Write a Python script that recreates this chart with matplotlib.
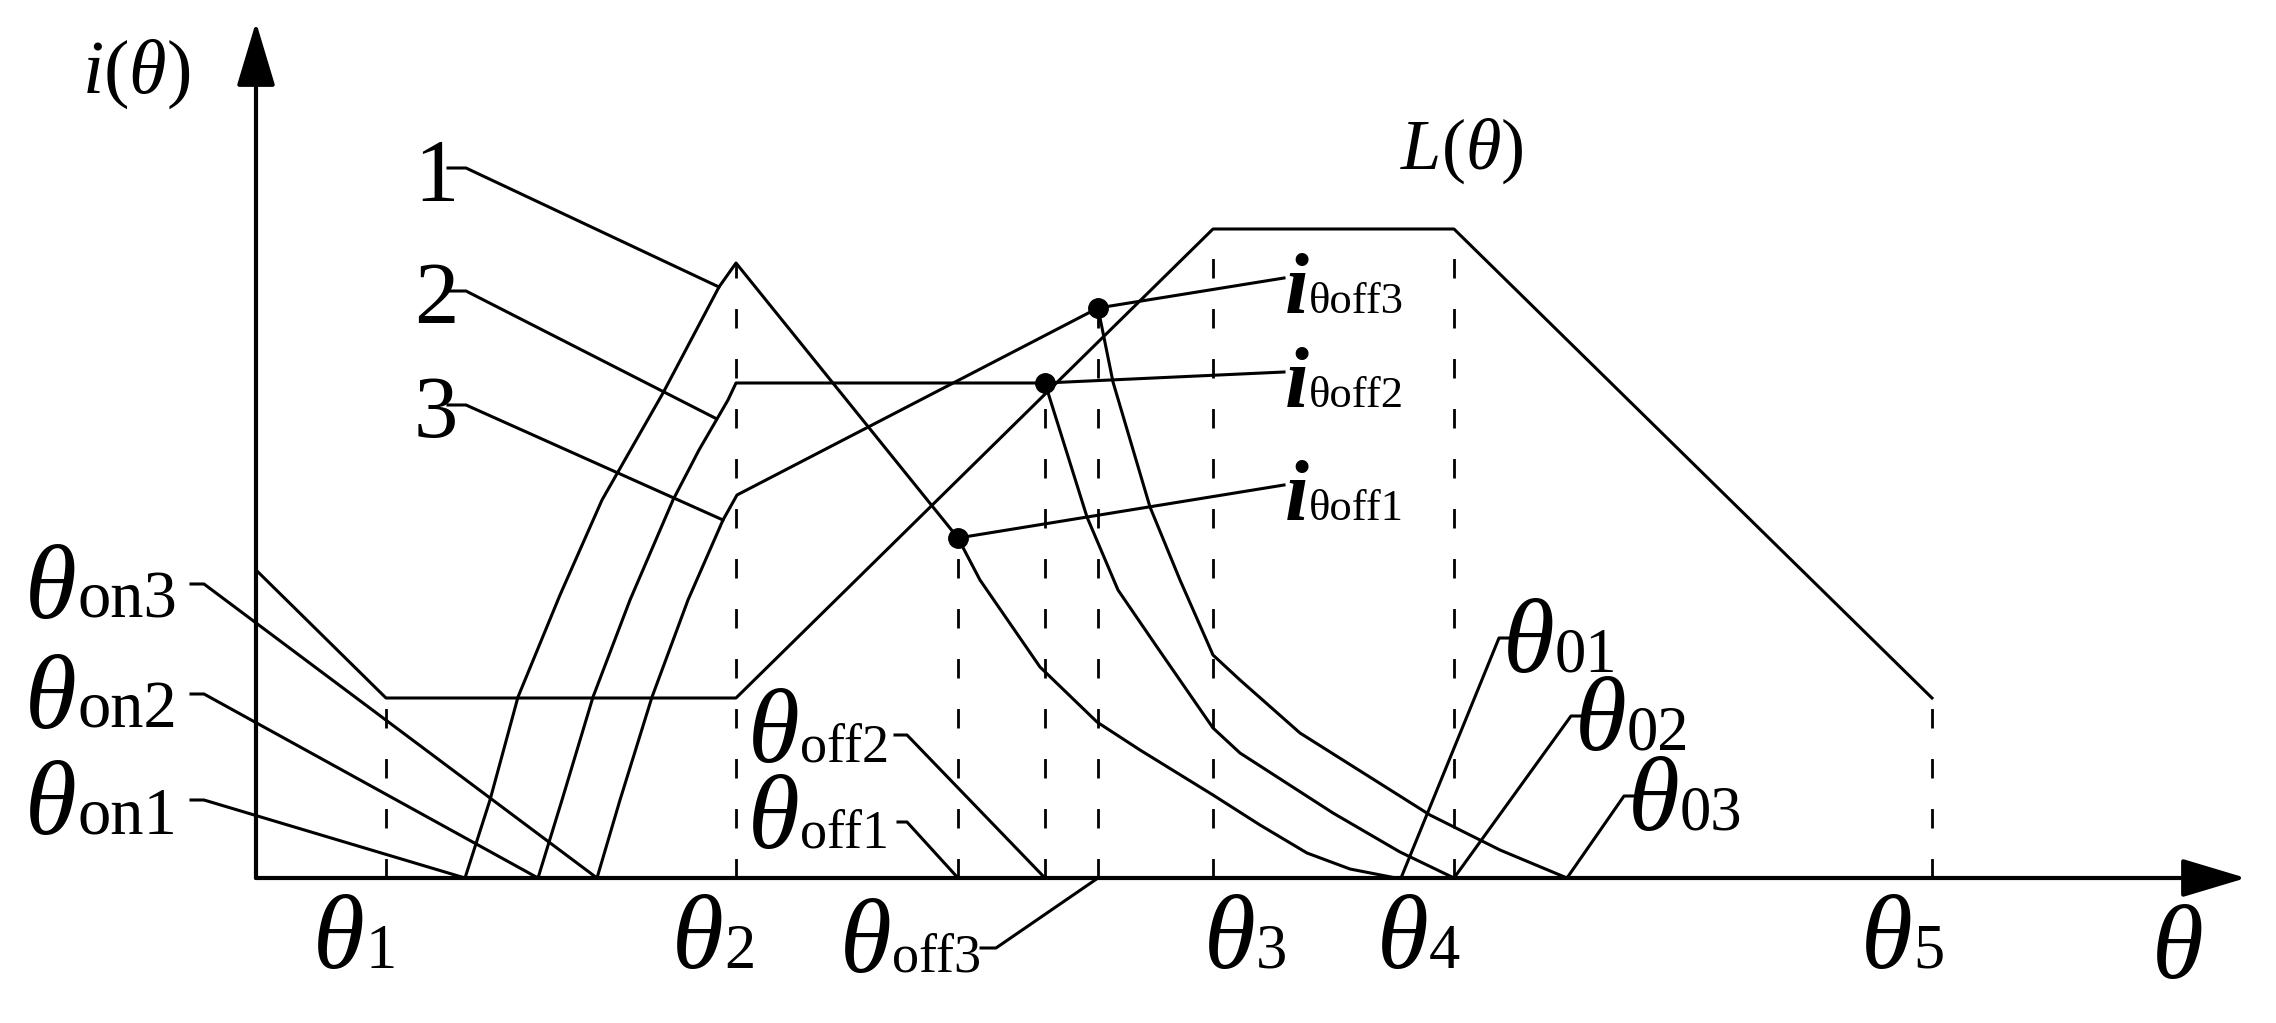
import matplotlib
matplotlib.use("Agg")
import matplotlib.pyplot as plt

plt.rcParams['font.family'] = ['Liberation Serif', 'DejaVu Serif']
plt.rcParams['mathtext.fontset'] = 'custom'
plt.rcParams['mathtext.it'] = 'Liberation Serif:italic'
plt.rcParams['mathtext.rm'] = 'Liberation Serif'

# rotor positions (theta units) and the height of their dashed guide lines
pos_sub = ['1', '2', 'off1', 'off2', 'off3', '3', '4', '5']
pos_theta = [13.0, 48.0, 70.2, 78.9, 84.2, 95.7, 119.8, 167.6]
pos_top = [18.0, 61.5, 34.0, 49.5, 57.0, 64.9, 64.9, 18.0]

# inductance profile L(theta)
L_theta = [0, 13.0, 48.0, 95.7, 119.8, 167.6]
L_i = [30.8, 18.0, 18.0, 64.9, 64.9, 18.0]

# phase current curves 1, 2, 3
c1_theta = [20.9, 23.4, 26.2, 30.4, 34.6, 40.7, 46.3, 48.0, 70.2, 72.4, 78.4,
            84.1, 88.4, 95.7, 100.4, 105.1, 109.4, 114.0]
c1_i = [0, 7.8, 18.1, 28.3, 37.8, 48.5, 59.1, 61.5, 34.0, 29.8, 21.1,
        15.6, 12.8, 8.3, 5.3, 2.5, 0.9, 0]
c2_theta = [28.2, 30.6, 33.7, 37.4, 41.7, 44.3, 47.2, 48.0, 78.9, 83.1, 86.2,
            90.1, 95.7, 98.4, 107.7, 114.4, 119.8]
c2_i = [0, 7.8, 18.1, 27.8, 37.8, 42.8, 47.8, 49.5, 49.5, 36.1, 28.8,
        23.1, 15.0, 12.5, 6.5, 2.6, 0]
c3_theta = [34.1, 36.4, 39.6, 43.2, 46.7, 48.1, 84.2, 85.7, 89.4, 92.4, 95.7,
            98.4, 104.4, 117.4, 124.4, 131.1]
c3_i = [0, 7.8, 18.1, 27.8, 35.8, 38.3, 57.0, 49.6, 37.1, 29.8, 22.3,
        19.8, 14.5, 6.3, 2.8, 0]

# turn-on / zero-current angles and turn-off currents
on_theta = [20.9, 28.2, 34.1]
zero_theta = [114.5, 119.8, 131.1]
off_theta = [70.2, 78.9, 84.2]
off_i = [34.0, 49.5, 57.0]

LW = 2.2
fig = plt.figure(figsize=(22.76, 10.23), dpi=100)
ax = fig.add_axes([0, 0, 1, 1])
ax.set_xlim(-25.6, 202.0)
ax.set_ylim(-14.5, 87.8)
ax.axis('off')

# axes with arrows
arr = dict(arrowstyle='-|>,head_length=2.0,head_width=0.6', mutation_scale=20,
           lw=3, color='k', shrinkA=0, shrinkB=0)
ax.annotate('', xy=(199.0, 0), xytext=(0, 0), arrowprops=arr)
ax.annotate('', xy=(0, 85.6), xytext=(0, 0), arrowprops=arr)

# dashed guides
for t, top in zip(pos_theta, pos_top):
    ax.plot([t, t], [0, top], color='k', lw=2.0, linestyle=(0, (7, 11)))

ax.plot(L_theta, L_i, color='k', lw=LW)
for th, ii in [(c1_theta, c1_i), (c2_theta, c2_i), (c3_theta, c3_i)]:
    ax.plot(th, ii, color='k', lw=LW)
ax.plot(off_theta, off_i, 'o', color='k', ms=14)


def leader(pts):
    xs, ys = zip(*pts)
    ax.plot(xs, ys, color='k', lw=LW)


def theta_label(x, y, sub, sub_size=45):
    ax.text(x, y, '\u03b8', ha='right', va='baseline', fontsize=76, style='italic')
    ax.text(x, y, sub, ha='left', va='baseline', fontsize=sub_size)


# axis titles
ax.text(-17.4, 78.5, r'$i(\theta)$', ha='left', va='baseline', fontsize=55)
ax.text(114.4, 70.9, r'$L(\theta)$', ha='left', va='baseline', fontsize=52)
ax.text(189.6, -10.0, '\u03b8', ha='left', va='baseline', fontsize=76, style='italic')

# bottom position labels
for sub, x in zip(['1', '2', '3', '4', '5'], [10.9, 46.8, 100.0, 117.3, 165.7]):
    theta_label(x, -9.0, sub)

# curve numbers
for num, y, tgt in zip(['1', '2', '3'], [67.8, 55.5, 44.1],
                       [(46.3, 59.1), (45.9, 46.0), (46.7, 35.8)]):
    ax.text(15.8, y, num, ha='left', va='baseline', fontsize=64)
    leader([(19.2, y + 3.2), (21.0, y + 3.2), tgt])

# turn-on labels
for k, y in zip([3, 2, 1], [26.0, 15.0, 4.4]):
    theta_label(-17.9, y, 'on%d' % k, sub_size=48)
    leader([(-6.5, y + 3.4), (-5.2, y + 3.4), (on_theta[k - 1], 0)])

# turn-off labels
theta_label(54.4, 11.6, 'off2', sub_size=39)
leader([(63.9, 14.3), (65.1, 14.3), (off_theta[1], 0)])
theta_label(54.4, 3.0, 'off1', sub_size=39)
leader([(64.2, 5.6), (65.1, 5.6), (off_theta[0], 0)])
theta_label(63.6, -9.4, 'off3', sub_size=39)
leader([(72.5, -7.0), (74.0, -7.0), (off_theta[2], 0)])

# zero-current labels
for k, (x, y) in enumerate([(129.9, 20.6), (137.1, 12.8), (142.4, 4.8)]):
    theta_label(x, y, '0%d' % (k + 1))
    ex = x - 4.3
    leader([(zero_theta[k], 0), (ex - 1.3, y + 3.4), (ex, y + 3.4)])

# turn-off current labels
for k, y in zip([3, 2, 1], [56.5, 47.1, 35.8]):
    ax.text(105.3, y, 'i', ha='right', va='baseline', fontsize=62,
            style='italic', weight='bold')
    ax.text(105.3, y, '\u03b8off%d' % k, ha='left', va='baseline', fontsize=32)
    leader([(off_theta[k - 1], off_i[k - 1]), (102.8, y + 3.5)])

fig.savefig('out.png', dpi=100)
